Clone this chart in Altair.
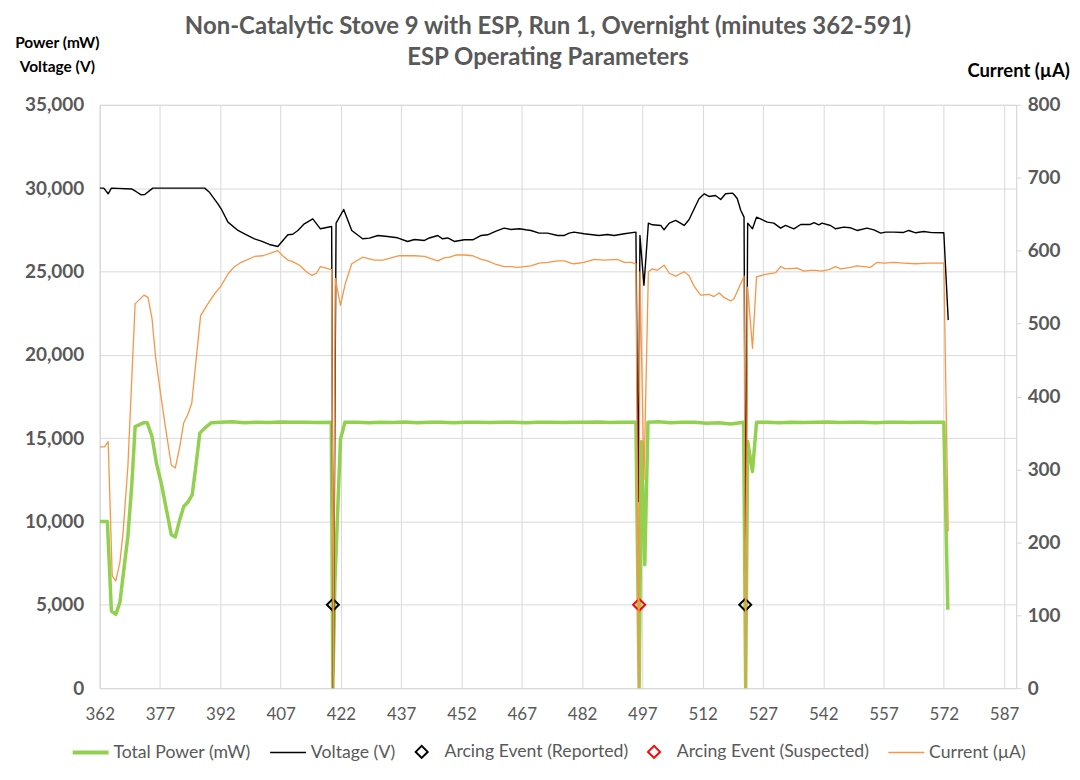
import altair as alt
import pandas as pd

# ---------------- data ----------------
power_t = [362, 363.9, 364.9, 366.0, 367.0, 368.0, 369.0, 370.0, 370.8, 373.0, 373.8, 375.0, 376.1, 377.3,
           378.6, 379.8, 380.8, 381.9, 382.9, 383.9, 385.0, 385.8, 386.9, 388.1, 389.8, 392, 395, 398, 401,
           404, 407, 410, 413, 416, 419.6, 420.0, 420.5, 421.9, 423.0, 426, 429, 432, 435, 438, 441, 444,
           447, 450, 453, 456, 459, 462, 465, 468, 471, 474, 477, 480, 483, 486, 489, 492, 495.4, 496.2,
           496.8, 497.6, 498.4, 501, 504, 507, 510, 513, 516, 519, 522.2, 522.7, 523.2, 524.4, 525.4, 528,
           531, 534, 537, 540, 543, 546, 549, 552, 555, 558, 561, 564, 567, 570, 572, 573]
power_v = [10000, 10000, 4630, 4430, 5130, 7120, 9110, 12300, 15690, 15930, 15930, 15100, 13500, 12300,
           10700, 9210, 9070, 10110, 10900, 11150, 11600, 13100, 15300, 15600, 15930, 15950, 15980, 15930, 15960,
           15940, 15970, 15950, 15960, 15940, 15950, 0, 6300, 14940, 15950, 15950, 15920, 15960, 15940, 15970, 15930, 15960,
           15950, 15930, 15960, 15950, 15940, 15960, 15950, 15930, 15960, 15950, 15940, 15960, 15950, 15970, 15940, 15950, 15950, 0,
           14800, 7400, 15950, 15980, 15930, 15960, 15950, 15900, 15920, 15850, 15950, 0, 14800, 13000, 15950, 15950,
           15930, 15960, 15940, 15950, 15970, 15940, 15950, 15960, 15930, 15950, 15960, 15940, 15950, 15960, 15950, 4700]

volt_t = [362, 363, 364.1, 364.9, 369.9, 371, 372.3, 373.2, 375.2, 380, 385, 388.1, 389.3, 391.4, 392.2,
          393.9, 396.4, 398.5, 400.5, 402.2, 404.2, 406.3, 408.8, 410.0, 411.3, 412.9, 415.0, 416.9, 419.7,
          420.1, 420.8, 422.7, 424.7, 427.4, 429.1, 431.2, 433.6, 436.1, 438.6, 440.3, 442.8, 444.0, 446.1,
          447.3, 448.6, 450.2, 452.7, 454.8, 456.9, 458.5, 460.6, 462.6, 464.3, 466.4, 468.0, 469.3, 471.3,
          473.4, 475.9, 477.6, 478.8, 480.0, 482.5, 486.2, 488.3, 490.0, 492.5, 495.4, 496.0, 496.4, 497.4,
          498.5, 499.5, 501.6, 502.4, 503.7, 505.3, 507.4, 508.6, 509.9, 511.1, 512.4, 513.6, 515.2, 516.5,
          517.7, 519.4, 519.8, 520.6, 521.5, 522.3, 522.7, 523.2, 524.4, 525.4, 528.1, 529.7, 531.4, 532.6,
          534.7, 536.4, 538.8, 539.7, 540.9, 541.7, 543.8, 545.1, 547.1, 548.8, 550.4, 552.9, 554.6, 556.3,
          557.5, 559.6, 562, 563.3, 565, 567, 569, 572, 573.1]
volt_v = [30000, 30000, 29660, 30000, 29950, 29800, 29600, 29620, 30000, 30000, 30000, 30000, 29750, 29060, 28760,
          27960, 27460, 27200, 26960, 26820, 26620, 26500, 27200, 27230, 27460, 27860, 28160, 27560, 27700,
          0, 27900, 28720, 27460, 26960, 27000, 27160, 27100, 27020, 26800, 26920, 26860, 27010, 27160,
          26960, 27010, 26800, 26900, 26900, 27160, 27200, 27420, 27600, 27520, 27560, 27500, 27460, 27300,
          27300, 27160, 27160, 27300, 27360, 27260, 27160, 27220, 27160, 27260, 27360, 11200, 27160, 24170,
          27900, 27800, 27760, 27500, 27900, 28060, 27760, 28100, 28760, 29360, 29660, 29500, 29560, 29320,
          29660, 29700, 29620, 29380, 28660, 28260, 7100, 27900, 27560, 28260, 27960, 27900, 27600, 27760,
          27560, 27820, 27820, 27930, 27800, 27900, 27760, 27560, 27660, 27620, 27460, 27600, 27500, 27300,
          27360, 27360, 27340, 27460, 27320, 27400, 27330, 27320, 22080]

curr_t = [362, 363.2, 364.1, 365.1, 366.0, 367.0, 367.8, 369.0, 370.8, 373.0, 374.0, 375.0, 375.9, 376.9,
          378.2, 379.8, 380.8, 381.9, 382.9, 383.9, 384.9, 385.8, 387.1, 388.9, 390.6, 392.1, 393.9, 395.5,
          397.2, 400.5, 402.6, 406.3, 407.5, 408.8, 410, 411.7, 413.4, 414.8, 415.9, 416.9, 419.7, 420.1,
          420.6, 421.9, 423.1, 424.7, 427.4, 430.3, 432.4, 434.5, 436.5, 440.3, 442.8, 444.4, 446.1, 447.7,
          449.0, 450.6, 452.7, 454.8, 456.9, 458.5, 460.6, 462.6, 464.3, 465.9, 467.6, 469.3, 471.3, 473.4,
          475.9, 477.6, 479.2, 480.0, 482.5, 485, 487.5, 490.8, 492.5, 494.2, 495.4, 496.1, 496.4, 497.4,
          498.5, 499.5, 500.7, 502.4, 503.7, 505.3, 507.4, 508.6, 509.9, 511.5, 513.6, 514.8, 516.1, 517.3,
          519.0, 519.8, 522.3, 522.7, 523.2, 524.4, 525.4, 527.3, 530.2, 531.4, 532.6, 535.5, 537.2, 538.8,
          540, 541.5, 543.4, 545.1, 546.3, 548.8, 550.4, 553.7, 555.4, 557.1, 559.6, 562, 565, 568, 572, 573.1]
curr_v = [331, 331, 338, 154, 147, 172, 213, 304, 527, 539, 536, 507, 454, 413,
          363, 306, 302, 331, 364, 375, 391, 441, 511, 527, 541, 551, 568, 578,
          584, 592, 593, 600, 593, 587, 585, 580, 571, 566, 569, 578, 574, 0,
          562, 525, 555, 582, 591, 587, 587, 590, 593, 593, 592, 589, 586, 590,
          591, 594, 594, 593, 588, 586, 581, 578, 578, 577, 578, 579, 583, 584,
          586, 586, 583, 582, 584, 588, 587, 588, 584, 584, 582, 0, 571, 286,
          571, 575, 573, 580, 569, 565, 571, 566, 551, 539, 540, 537, 542, 536,
          531, 534, 565, 0, 550, 466, 564, 567, 570, 578, 575, 576, 572, 573,
          573, 572, 574, 578, 575, 577, 579, 577, 584, 583, 584, 583, 582, 583, 583, 215]

event_t = [420.0, 496.2, 522.6]
event_v = [5000, 5000, 5000]
event_kind = ["Arcing Event (Reported)", "Arcing Event (Suspected)", "Arcing Event (Reported)"]

series_names = ["Total Power (mW)", "Voltage (V)", "Arcing Event (Reported)",
                "Arcing Event (Suspected)", "Current (µA)"]
series_colors = ["#92D050", "#000000", "#000000", "#FF0000", "#F79646"]
series_shapes = ["M-3,0H3", "M-3,0H3", "diamond", "diamond", "M-3,0H3"]
series_widths = [4, 1.6, 2, 2, 1.6]

x_ticks = [362, 377, 392, 407, 422, 437, 452, 467, 482, 497, 512, 527, 542, 557, 572, 587]
left_ticks = [0, 5000, 10000, 15000, 20000, 25000, 30000, 35000]
right_ticks = [0, 100, 200, 300, 400, 500, 600, 700, 800]

title_lines = ["Non-Catalytic Stove 9 with ESP, Run 1, Overnight (minutes 362-591)",
               "ESP Operating Parameters"]

# ---------------- tables ----------------
df_power = pd.DataFrame({"t": power_t, "v": power_v})
df_volt = pd.DataFrame({"t": volt_t, "v": volt_v})
df_curr = pd.DataFrame({"t": curr_t, "v": curr_v})
df_event = pd.DataFrame({"t": event_t, "v": event_v, "kind": event_kind})

FONT = "Lato"
GRAY = "#595959"
GRID = "#D9D9D9"

x_enc = alt.X("t:Q", scale=alt.Scale(domain=[362, 590], nice=False, zero=False),
              axis=alt.Axis(values=x_ticks, title=None, grid=True, gridColor=GRID,
                            domainColor=GRID, ticks=False,
                            labelFont=FONT, labelFontSize=17, labelColor=GRAY,
                            labelPadding=18, labelFlush=False, format="d"))

y_left = alt.Y("v:Q", scale=alt.Scale(domain=[0, 35000], nice=False),
               axis=alt.Axis(values=left_ticks, format=",d", grid=True, gridColor=GRID,
                             domainColor=GRID, ticks=False,
                             labelFont=FONT, labelFontSize=19, labelFontWeight="bold",
                             labelColor=GRAY, labelPadding=16,
                             title=["Power (mW)", "Voltage (V)"], titleAngle=0,
                             titleFont=FONT, titleFontSize=15.5, titleFontWeight="bold",
                             titleColor="#000000", titleAlign="center",
                             titleBaseline="alphabetic", titleX=-43, titleY=-57,
                             titleLineHeight=24))

y_right = alt.Y("v:Q", scale=alt.Scale(domain=[0, 800], nice=False),
                axis=alt.Axis(orient="right", values=right_ticks, grid=False,
                              domainColor=GRID, tickColor=GRID, tickSize=5,
                              labelFont=FONT, labelFontSize=19, labelFontWeight="bold",
                              labelColor=GRAY, labelPadding=6,
                              title="Current (µA)", titleAngle=0,
                              titleFont=FONT, titleFontSize=18.5, titleFontWeight="bold",
                              titleColor="#000000", titleAlign="center",
                              titleBaseline="alphabetic", titleX=2, titleY=-28))

legend = alt.Legend(orient="none", legendX=-18, legendY=640, direction="horizontal",
                    columns=5, title=None, labelFont=FONT, labelFontSize=17.7,
                    labelColor=GRAY, labelLimit=400, symbolSize=144,
                    labelOffset=14, columnPadding=15)

power_line = alt.Chart(df_power).mark_line(color="#92D050", strokeWidth=3.5,
                                           strokeJoin="round", clip=True).encode(x=x_enc, y=y_left)
volt_line = alt.Chart(df_volt).mark_line(color="#000000", strokeWidth=1.4,
                                         strokeJoin="round", clip=True).encode(x=x_enc, y=y_left)
events = alt.Chart(df_event).mark_point(filled=False, size=144, opacity=1).encode(
    x=x_enc, y=y_left,
    color=alt.Color("kind:N", scale=alt.Scale(domain=series_names, range=series_colors), legend=legend),
    shape=alt.Shape("kind:N", scale=alt.Scale(domain=series_names, range=series_shapes), legend=legend),
    strokeWidth=alt.StrokeWidth("kind:N", scale=alt.Scale(type="ordinal", domain=series_names,
                                                          range=series_widths), legend=legend),
)
curr_line = alt.Chart(df_curr).mark_line(color="#F79646", strokeWidth=1.3,
                                         strokeJoin="round", clip=True).encode(x=x_enc, y=y_right)

left = alt.layer(power_line, volt_line, events)
chart = alt.layer(left, curr_line).resolve_scale(y="independent").properties(
    width=919, height=585,
    padding={"left": 92, "top": 96, "right": 56, "bottom": 80},
    autosize=alt.AutoSizeParams(type="none"),
    title=alt.TitleParams(text=title_lines, font=FONT, fontSize=24, fontWeight="bold",
                          color=GRAY, anchor="middle", offset=-34, lineHeight=31, dx=-10),
).configure_view(stroke=None).configure(background="white")

chart.save("out.html", embed_options={"renderer": "svg", "actions": False})
